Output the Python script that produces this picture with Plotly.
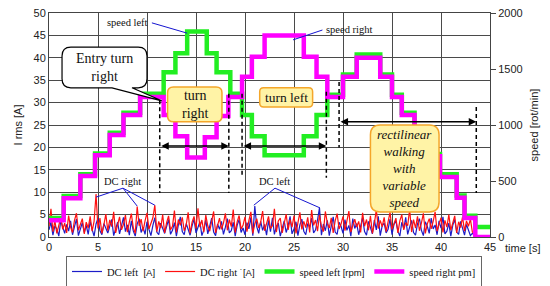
import plotly.graph_objects as go

# ---------------- data ----------------
# speed steps: time [s] and rpm
speed_right_t = [0, 1.5, 3.2, 4.7, 6.2, 7.6, 9.3, 11.7, 12.9, 14.1, 15.9, 17.1, 18.3, 19.7, 20.7, 22.0,
                 26.0, 27.3, 28.4, 30.0, 31.4, 33.8, 35.0, 36.0, 37.3, 38.6, 39.9, 41.6, 42.4, 43.5, 45.0]
speed_right_rpm = [150, 345, 545, 730, 910, 1090, 1250, 1090, 900, 710, 890, 1080, 1250, 1430, 1610, 1800,
                   1610, 1430, 1250, 1430, 1600, 1430, 1250, 1090, 900, 720, 535, 350, 170, 0, 0]

speed_left_t = [0, 1.5, 3.2, 4.7, 6.2, 7.6, 9.3, 11.7, 12.9, 14.1, 16.1, 17.1, 18.5, 19.7, 20.7, 22.0,
                26.0, 27.3, 28.4, 30.0, 31.4, 33.8, 35.0, 36.0, 37.3, 38.6, 39.9, 41.6, 42.4, 43.5, 45.0]
speed_left_rpm = [170, 365, 560, 745, 930, 1110, 1280, 1470, 1640, 1835, 1640, 1470, 1280, 1090, 900, 730,
                  900, 1090, 1270, 1450, 1630, 1450, 1270, 1110, 920, 740, 560, 370, 190, 90, 90]

# DC currents [A], sampled every 0.2 s from t = 0
DC_DT = 0.2
dc_right = [2.4, 6.3, 1.2, 3.6, 0.8, 2.9, 4.4, 1.7, 3.1, 0.9,
            4.8, 2.2, 1.0, 3.7, 5.3, 1.5, 2.6, 4.1, 0.7, 3.3,
            2.0, 4.6, 1.3, 3.5, 9.6, 1.9, 4.2, 0.8, 2.7, 5.1,
            1.4, 3.8, 2.3, 5.6, 0.9, 3.0, 4.5, 1.6, 2.8, 4.9,
            1.1, 3.4, 5.2, 2.1, 0.8, 6.8, 2.5, 4.0, 1.3, 3.6,
            5.4, 1.8, 2.9, 4.3, 7.1, 1.2, 3.5, 2.0, 5.0, 0.9,
            3.2, 4.7, 1.6, 2.4, 5.9, 1.0, 3.9, 2.6, 4.4, 1.4,
            2.7, 5.5, 0.8, 3.3, 4.6, 1.9, 6.4, 2.2, 3.8, 1.1,
            4.9, 2.5, 1.3, 3.6, 5.7, 0.9, 2.8, 4.2, 1.7, 3.1,
            5.3, 1.5, 3.9, 2.3, 6.1, 1.0, 3.4, 4.8, 1.8, 2.6,
            4.5, 1.2, 3.7, 5.6, 0.8, 2.9, 4.1, 2.0, 3.3, 5.8,
            1.4, 3.0, 4.6, 1.9, 2.5, 6.3, 1.1, 3.6, 4.2, 0.9,
            2.8, 5.1, 1.6, 3.9, 2.2, 4.8, 0.8, 3.2, 5.5, 1.7,
            3.5, 2.1, 4.4, 1.0, 6.0, 2.6, 3.8, 1.3, 4.9, 2.4,
            1.2, 5.7, 3.1, 2.0, 4.3, 0.9, 3.6, 5.2, 1.8, 2.9,
            4.6, 1.4, 3.3, 5.8, 1.1, 2.7, 4.0, 2.2, 3.5, 1.0,
            5.4, 2.4, 3.9, 1.5, 4.7, 0.8, 3.0, 6.1, 1.9, 3.7,
            2.3, 4.4, 1.2, 3.4, 5.5, 1.7, 2.8, 4.2, 0.9, 3.6,
            5.0, 1.6, 3.2, 2.5, 6.2, 1.1, 3.9, 2.0, 4.6, 1.4,
            3.1, 5.3, 0.8, 2.9, 4.1, 1.8, 3.5, 5.6, 1.3, 2.6,
            4.3, 1.0, 3.7, 2.2, 5.0, 1.5, 3.0, 4.7, 0.9, 3.4,
            2.1, 4.5, 1.3, 3.6, 2.4, 4.0, 1.1, 0.7]
dc_left = [1.6, 3.3, 0.4, 2.5, 1.8, 0.2, 3.7, 2.1, 0.8, 2.8,
           1.3, 3.6, 0.5, 2.3, 4.0, 0.3, 1.9, 3.2, 1.0, 2.6,
           0.6, 3.5, 1.7, 0.2, 2.9, 4.2, 1.4, 0.5, 3.0, 2.1,
           0.9, 2.4, 3.9, 0.3, 1.6, 3.3, 0.7, 2.6, 4.4, 1.2,
           2.7, 0.4, 3.6, 1.4, 0.2, 2.9, 4.1, 1.0, 2.2, 0.6,
           3.4, 1.7, 0.3, 2.6, 4.3, 1.1, 0.5, 3.1, 1.9, 0.8,
           2.3, 3.9, 0.6, 1.5, 3.2, 0.2, 2.7, 4.5, 1.2, 0.5,
           3.0, 1.8, 0.4, 2.5, 4.0, 0.9, 2.1, 3.4, 0.3, 1.6,
           3.8, 0.7, 2.4, 4.2, 1.1, 0.3, 2.9, 1.7, 3.5, 0.6,
           2.2, 4.1, 0.9, 1.4, 3.3, 0.2, 2.6, 3.9, 1.0, 2.0,
           0.5, 3.2, 1.8, 4.4, 0.3, 6.9, 2.3, 0.8, 3.5, 1.5,
           2.8, 0.4, 3.7, 1.2, 4.3, 0.6, 2.4, 3.1, 0.2, 1.9,
           3.6, 1.0, 2.5, 4.6, 0.7, 1.8, 3.4, 0.3, 2.7, 4.0,
           1.3, 0.5, 3.0, 2.2, 4.2, 0.9, 1.6, 3.8, 6.5, 0.4,
           2.9, 1.4, 3.7, 0.3, 2.1, 4.5, 1.1, 0.6, 3.3, 2.4,
           0.8, 3.9, 1.5, 2.6, 0.2, 4.1, 1.9, 3.0, 0.5, 2.3,
           4.3, 1.2, 0.4, 3.5, 2.0, 0.7, 3.8, 1.6, 4.6, 0.3,
           2.5, 3.1, 0.9, 1.7, 4.0, 0.5, 2.8, 3.6, 1.3, 0.2,
           3.3, 1.9, 4.4, 0.6, 2.2, 3.7, 1.0, 0.4, 2.9, 4.1,
           1.5, 0.3, 3.4, 2.4, 0.8, 4.2, 1.8, 2.7, 0.5, 3.6,
           2.0, 4.5, 0.7, 1.3, 3.1, 0.2, 2.6, 3.9, 1.1, 0.6,
           3.5, 1.9, 0.4, 2.8, 1.4, 0.3, 0.8, 0.4]
dc_t = [round(i * DC_DT, 2) for i in range(len(dc_right))]

left_ticks = [0, 5, 10, 15, 20, 25, 30, 35, 40, 45, 50]
right_ticks = [0, 500, 1000, 1500, 2000]
time_ticks = [0, 5, 10, 15, 20, 25, 30, 35, 40, 45]

# ---------------- figure ----------------
SERIF = "Liberation Serif"
SANS = "Liberation Sans"


def unit(s):
    return f'<span style="font-family:{SANS};font-size:9.5px">{s}</span>'


fig = go.Figure()
fig.add_trace(go.Scatter(x=dc_t, y=dc_left, mode="lines", name="DC left&nbsp;&nbsp;" + unit("[A]"),
                         line=dict(color="#1c1cc8", width=1.2)))
fig.add_trace(go.Scatter(x=dc_t, y=dc_right, mode="lines", name="DC right " + unit("˙[A]"),
                         line=dict(color="#ff1010", width=1.2)))
fig.add_trace(go.Scatter(x=speed_left_t, y=speed_left_rpm, mode="lines",
                         name="speed left&nbsp;" + unit("[rpm]"),
                         line=dict(color="#22ee22", width=4.5, shape="hv"), yaxis="y2"))
fig.add_trace(go.Scatter(x=speed_right_t, y=speed_right_rpm, mode="lines", name="speed right pm]",
                         line=dict(color="#ff00ff", width=4.5, shape="hv"), yaxis="y2"))


def rrect(x0, x1, y0, y1, rx, ry, tail=None):
    p = (f"M {x0 + rx},{y1} L {x1 - rx},{y1} Q {x1},{y1} {x1},{y1 - ry} "
         f"L {x1},{y0 + ry} Q {x1},{y0} {x1 - rx},{y0} ")
    if tail:
        xa, xb, tx, ty = tail
        p += f"L {xa},{y0} L {tx},{ty} L {xb},{y0} "
    p += f"L {x0 + rx},{y0} Q {x0},{y0} {x0},{y0 + ry} L {x0},{y1 - ry} Q {x0},{y1} {x0 + rx},{y1} Z"
    return p


shapes = []
# dashed verticals
for (xv, ya, yb) in [(11.3, 30.5, 9.8), (18.35, 32.0, 9.8), (19.7, 32.0, 13.2),
                     (28.3, 32.4, 13.2), (29.6, 34.6, 20.0), (43.6, 29.0, 9.8)]:
    shapes.append(dict(type="line", xref="x", yref="y", x0=xv, x1=xv, y0=ya, y1=yb,
                       line=dict(color="black", width=1.5, dash="4px,3px"), layer="above"))
# blue callout lines
blue = "#1515d0"
for (xa, ya, xb, yb) in [(10.5, 47.8, 14.1, 45.5), (27.9, 46.2, 24.9, 44.0),
                         (7.55, 10.9, 4.8, 8.9), (7.55, 10.9, 9.0, 6.9), (7.55, 10.9, 10.8, 7.1),
                         (23.06, 10.9, 20.9, 7.1), (23.06, 10.9, 27.65, 6.5)]:
    shapes.append(dict(type="line", xref="x", yref="y", x0=xa, y0=ya, x1=xb, y1=yb,
                       line=dict(color=blue, width=1), layer="above"))
# boxes
shapes.append(dict(type="path", xref="x", yref="y", layer="above",
                   path=rrect(1.33, 10.0, 33.3, 42.4, 0.9, 2.0, tail=(8.47, 6.43, 11.5, 30.4)),
                   fillcolor="white", line=dict(color="black", width=1.2)))
yellow = "#fff3a6"
orange = "#f4a62a"
shapes.append(dict(type="path", xref="x", yref="y", layer="above",
                   path=rrect(12.1, 17.65, 25.7, 33.5, 0.6, 1.3),
                   fillcolor=yellow, line=dict(color=orange, width=1.5)))
shapes.append(dict(type="path", xref="x", yref="y", layer="above",
                   path=rrect(21.5, 26.9, 29.0, 33.3, 0.4, 0.9),
                   fillcolor=yellow, line=dict(color=orange, width=1.5)))
shapes.append(dict(type="path", xref="x", yref="y", layer="above",
                   path=rrect(32.8, 39.8, 5.6, 25.0, 1.0, 2.2),
                   fillcolor=yellow, line=dict(color=orange, width=1.5)))

annotations = []
# double arrows
for (xa, xb, yv) in [(11.3, 18.35, 20.3), (19.7, 28.3, 20.3), (29.6, 43.6, 25.7)]:
    annotations.append(dict(x=xb, y=yv, ax=xa, ay=yv, xref="x", yref="y", axref="x", ayref="y",
                            text="", showarrow=True, arrowside="end+start", arrowhead=2,
                            arrowsize=1, arrowwidth=1.5, arrowcolor="black", standoff=0, startstandoff=0))


def txt(x, y, s, size, italic=False, xanchor="center"):
    annotations.append(dict(x=x, y=y, xref="x", yref="y", text=s, showarrow=False, xanchor=xanchor,
                            font=dict(family=SERIF, size=size, color="#111",
                                      style="italic" if italic else "normal")))


txt(8.0, 47.8, "speed left", 10.5)
txt(30.6, 46.4, "speed right", 10.5)
txt(7.55, 12.4, "DC right", 10.5)
txt(23.0, 12.4, "DC left", 10.5)
txt(5.66, 37.9, "Entry turn<br>right", 14)
txt(14.9, 29.6, "turn<br>right", 14)
txt(24.2, 31.1, "turn left", 13.5)
txt(36.3, 15.2, "rectilinear<br>walking<br>with<br>variable<br>speed", 13, italic=True)

annotations.append(dict(x=(522 - 49) / 441, y=(237 - 248) / 224, xref="paper", yref="paper",
                        xanchor="center", yanchor="middle",
                        text="time [s]", showarrow=False, font=dict(family=SANS, size=11, color="#222")))

axis_common = dict(showline=True, linecolor="#444", linewidth=1, zeroline=False,
                   tickfont=dict(family=SANS, size=11, color="#222"))

fig.update_layout(
    width=550, height=286,
    margin=dict(l=49, r=60, t=13, b=49, autoexpand=False),
    paper_bgcolor="white", plot_bgcolor="white",
    font=dict(family=SANS, size=11, color="#222"),
    xaxis=dict(range=[0, 45], tickvals=time_ticks, showgrid=True, gridcolor="#4a4a4a", gridwidth=1,
               mirror=True, ticks="", **axis_common),
    yaxis=dict(range=[0, 50], tickvals=left_ticks, showgrid=True, gridcolor="#4a4a4a", gridwidth=1,
               mirror=True, ticks="", title=dict(text="I rms [A]", font=dict(family=SANS, size=11), standoff=8),
               **axis_common),
    yaxis2=dict(range=[0, 2000], tickvals=right_ticks, overlaying="y", side="right", showgrid=False,
                ticks="outside", ticklen=5, tickcolor="#444",
                title=dict(text="speed [rot/min]", font=dict(family=SANS, size=11), standoff=8),
                **axis_common),
    showlegend=True,
    legend=dict(orientation="h", xref="container", x=274 / 550, xanchor="center",
                yref="container", y=1 - 256 / 286, yanchor="top",
                bordercolor="#666", borderwidth=1, bgcolor="white",
                font=dict(family=SERIF, size=10.5, color="#111"), itemwidth=30,
                tracegroupgap=0),
    shapes=shapes,
    annotations=annotations,
)

fig.write_html("out.html")
